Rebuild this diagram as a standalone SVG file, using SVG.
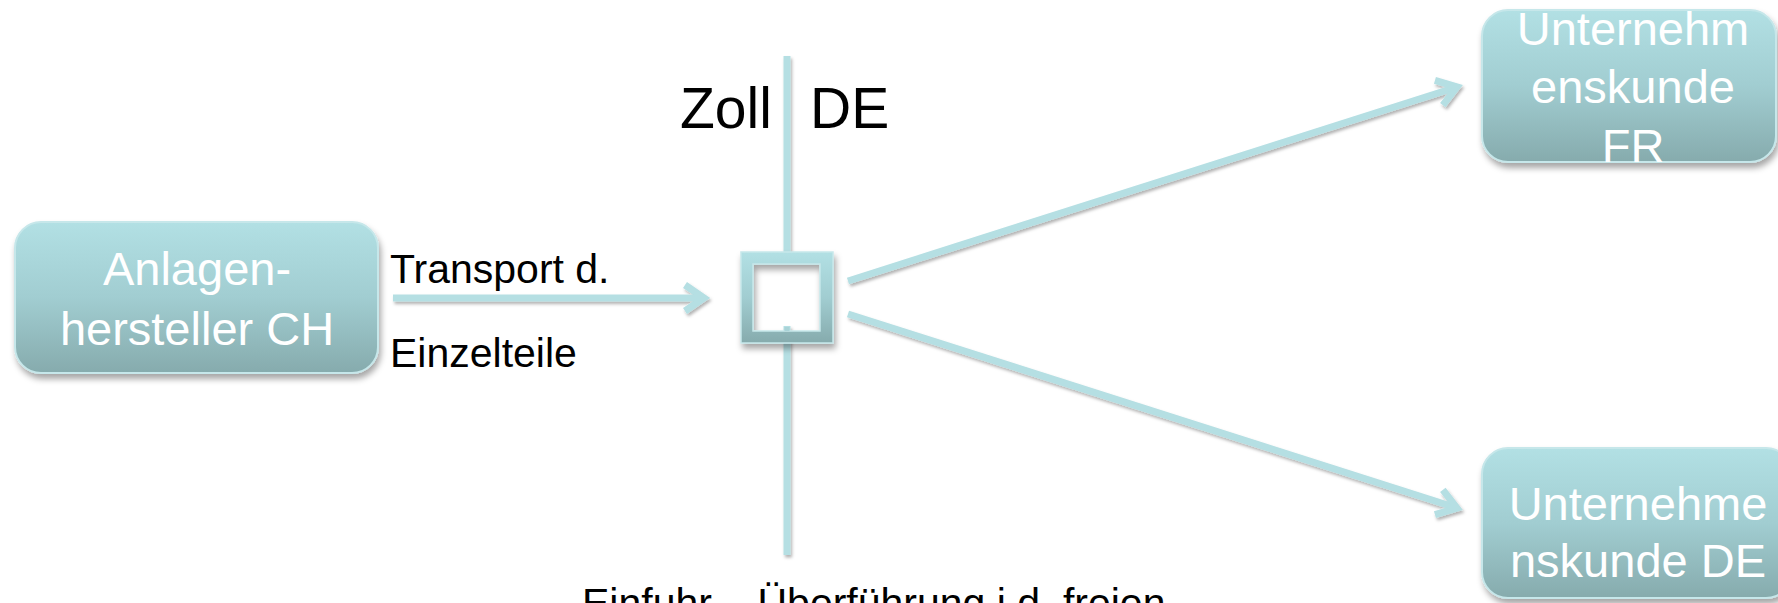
<svg xmlns="http://www.w3.org/2000/svg" width="1778" height="603" viewBox="0 0 1778 603">
  <defs>
    <linearGradient id="tealFill" x1="0" y1="0" x2="0" y2="1">
      <stop offset="0" stop-color="#b2e0e4"/>
      <stop offset="0.5" stop-color="#a1cdd1"/>
      <stop offset="1" stop-color="#86abad"/>
    </linearGradient>
    <filter id="nodeShadow" x="-10%" y="-15%" width="125%" height="140%">
      <feDropShadow dx="2" dy="5" stdDeviation="3" flood-color="#000" flood-opacity="0.35"/>
    </filter>
    <!-- user-space region so straight horizontal/vertical lines still render -->
    <filter id="lineShadow" filterUnits="userSpaceOnUse" x="0" y="0" width="1778" height="603">
      <feDropShadow dx="1.5" dy="2.5" stdDeviation="1.5" flood-color="#000" flood-opacity="0.3"/>
    </filter>
    <marker id="chevron" markerUnits="userSpaceOnUse" markerWidth="40" markerHeight="40" viewBox="-30 -20 40 40" refX="0" refY="0" orient="auto">
      <path d="M-19,-13 L0,0 L-19,13" fill="none" stroke="#b5dfe3" stroke-width="7" stroke-linejoin="miter"/>
    </marker>
  </defs>
  <style>
    .node rect { fill: url(#tealFill); stroke: #c6e7ea; stroke-width: 2; filter: url(#nodeShadow); }
    .node text { fill: #ffffff; font-family: "Liberation Sans", Arial, sans-serif; font-size: 47px; text-anchor: middle; }
    .label { fill: #000000; font-family: "Liberation Sans", Arial, sans-serif; }
    .link { fill: none; stroke: #b5dfe3; stroke-width: 7; filter: url(#lineShadow); }
  </style>

  <rect width="1778" height="603" fill="#ffffff"/>

  <!-- border line and arrows -->
  <g id="connectors">
    <line class="link" x1="787" y1="56" x2="787" y2="253"/>
    <line class="link" x1="787" y1="326" x2="787" y2="555"/>
    <line class="link" x1="393" y1="298" x2="704" y2="298" marker-end="url(#chevron)"/>
    <line class="link" x1="848" y1="281" x2="1457" y2="87" marker-end="url(#chevron)"/>
    <line class="link" x1="848" y1="314" x2="1457" y2="508" marker-end="url(#chevron)"/>
  </g>

  <!-- customs checkpoint frame -->
  <g id="zoll-box">
    <path d="M741,252 H833 V343 H741 Z M753,264 V331 H820 V264 Z" fill="url(#tealFill)" fill-rule="evenodd" stroke="#c6e7ea" stroke-width="1.5" filter="url(#nodeShadow)"/>
    <rect x="784.5" y="327" width="5" height="4" fill="#a9d3d7"/>
  </g>

  <g id="node-ch" class="node">
    <rect x="15" y="222" width="363" height="151" rx="26"/>
    <text x="197" y="285">Anlagen-</text>
    <text x="197" y="345">hersteller CH</text>
  </g>

  <g id="node-fr" class="node">
    <rect x="1482" y="10" width="294" height="152" rx="26"/>
    <text x="1633" y="45">Unternehm</text>
    <text x="1633" y="103">enskunde</text>
    <text x="1633" y="162">FR</text>
  </g>

  <g id="node-de" class="node">
    <rect x="1482" y="448" width="310" height="150" rx="26"/>
    <text x="1638" y="520">Unternehme</text>
    <text x="1638" y="577">nskunde DE</text>
  </g>

  <g id="labels">
    <text class="label" x="680" y="128" font-size="57">Zoll</text>
    <text class="label" x="810" y="128" font-size="57">DE</text>
    <text class="label" x="390" y="283" font-size="41">Transport d.</text>
    <text class="label" x="390" y="367" font-size="41">Einzelteile</text>
    <text class="label" x="582" y="617" font-size="41">Einfuhr – Überführung i.d. freien</text>
  </g>
</svg>
